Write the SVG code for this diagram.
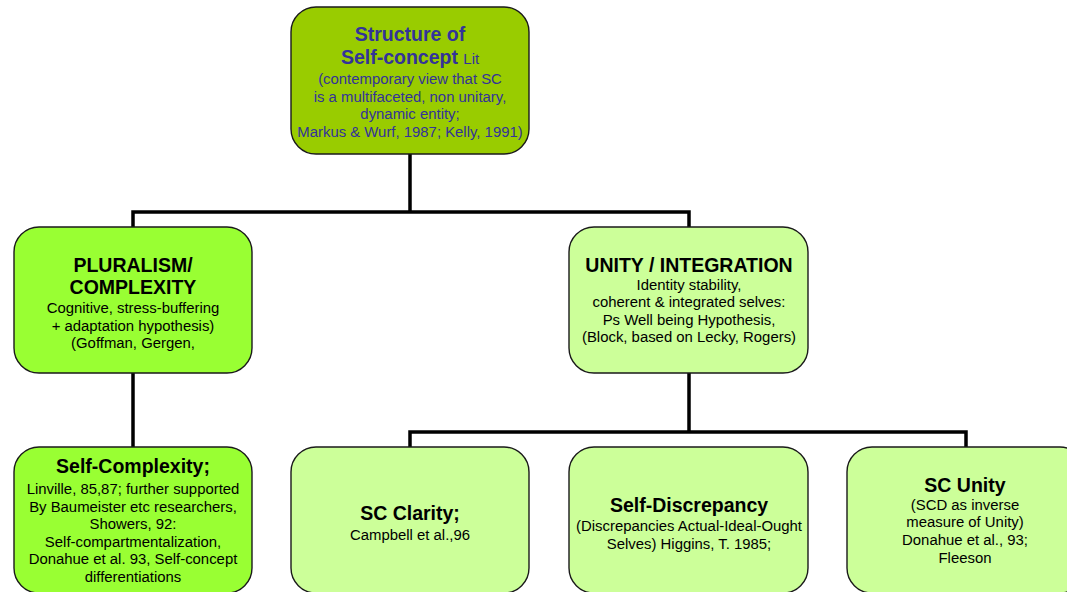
<svg xmlns="http://www.w3.org/2000/svg" width="1067" height="592" viewBox="0 0 1067 592">
  <style>
    .box { stroke: #1a1a1a; stroke-width: 1.4; }
    .root { fill: #99cc00; }
    .plural { fill: #99ff33; }
    .unity { fill: #ccff99; }
    text { font-family: "Liberation Sans", Arial, sans-serif; text-anchor: middle; fill: #000; }
    .h { font-size: 19.5px; font-weight: bold; }
    .b { font-size: 14.9px; }
    .blue { fill: #333399; }
    .wire { fill: none; stroke: #000; stroke-width: 3.5; stroke-linejoin: miter; }
  </style>

  <!-- tree connectors -->
  <g id="connectors">
    <path class="wire" d="M410,154 V212 M133,227 V212 H689 V227"/>
    <path class="wire" d="M133,373 V447"/>
    <path class="wire" d="M689,373 V432 M410,447 V432 H966 V447"/>
  </g>

  <g id="root">
    <rect class="box root" x="291" y="7" width="238" height="147" rx="25"/>
    <text class="h blue" x="410" y="41">Structure of</text>
    <text class="h blue" x="410" y="64">Self-concept <tspan class="b" style="font-weight:normal">Lit</tspan></text>
    <text class="b blue" x="410" y="84">(contemporary view that SC</text>
    <text class="b blue" x="410" y="102">is a multifaceted, non unitary,</text>
    <text class="b blue" x="410" y="119">dynamic entity;</text>
    <text class="b blue" x="410" y="137">Markus &amp; Wurf, 1987; Kelly, 1991)</text>
  </g>

  <g id="pluralism">
    <rect class="box plural" x="14" y="227" width="238" height="146" rx="25"/>
    <text class="h" x="133" y="272">PLURALISM/</text>
    <text class="h" x="133" y="294">COMPLEXITY</text>
    <text class="b" x="133" y="313">Cognitive, stress-buffering</text>
    <text class="b" x="133" y="331">+ adaptation hypothesis)</text>
    <text class="b" x="133" y="348">(Goffman, Gergen,</text>
  </g>

  <g id="unity">
    <rect class="box unity" x="569" y="227" width="239" height="146" rx="25"/>
    <text class="h" x="689" y="272">UNITY / INTEGRATION</text>
    <text class="b" x="689" y="290">Identity stability,</text>
    <text class="b" x="689" y="307">coherent &amp; integrated selves:</text>
    <text class="b" x="689" y="325">Ps Well being Hypothesis,</text>
    <text class="b" x="689" y="342">(Block, based on Lecky, Rogers)</text>
  </g>

  <g id="self-complexity">
    <rect class="box plural" x="14" y="447" width="238" height="146" rx="25"/>
    <text class="h" x="133" y="473">Self-Complexity;</text>
    <text class="b" x="133" y="494">Linville, 85,87; further supported</text>
    <text class="b" x="133" y="512">By Baumeister etc researchers,</text>
    <text class="b" x="133" y="529">Showers, 92:</text>
    <text class="b" x="133" y="547">Self-compartmentalization,</text>
    <text class="b" x="133" y="564">Donahue et al. 93, Self-concept</text>
    <text class="b" x="133" y="582">differentiations</text>
  </g>

  <g id="sc-clarity">
    <rect class="box unity" x="291" y="447" width="238" height="146" rx="25"/>
    <text class="h" x="410" y="520">SC Clarity;</text>
    <text class="b" x="410" y="540">Campbell et al.,96</text>
  </g>

  <g id="self-discrepancy">
    <rect class="box unity" x="569" y="447" width="239" height="146" rx="25"/>
    <text class="h" x="689" y="512">Self-Discrepancy</text>
    <text class="b" x="689" y="531">(Discrepancies Actual-Ideal-Ought</text>
    <text class="b" x="689" y="549">Selves) Higgins, T. 1985;</text>
  </g>

  <g id="sc-unity">
    <rect class="box unity" x="847" y="447" width="238" height="146" rx="25"/>
    <text class="h" x="965" y="492">SC Unity</text>
    <text class="b" x="965" y="510">(SCD as inverse</text>
    <text class="b" x="965" y="527">measure of Unity)</text>
    <text class="b" x="965" y="545">Donahue et al., 93;</text>
    <text class="b" x="965" y="563">Fleeson</text>
  </g>
</svg>
